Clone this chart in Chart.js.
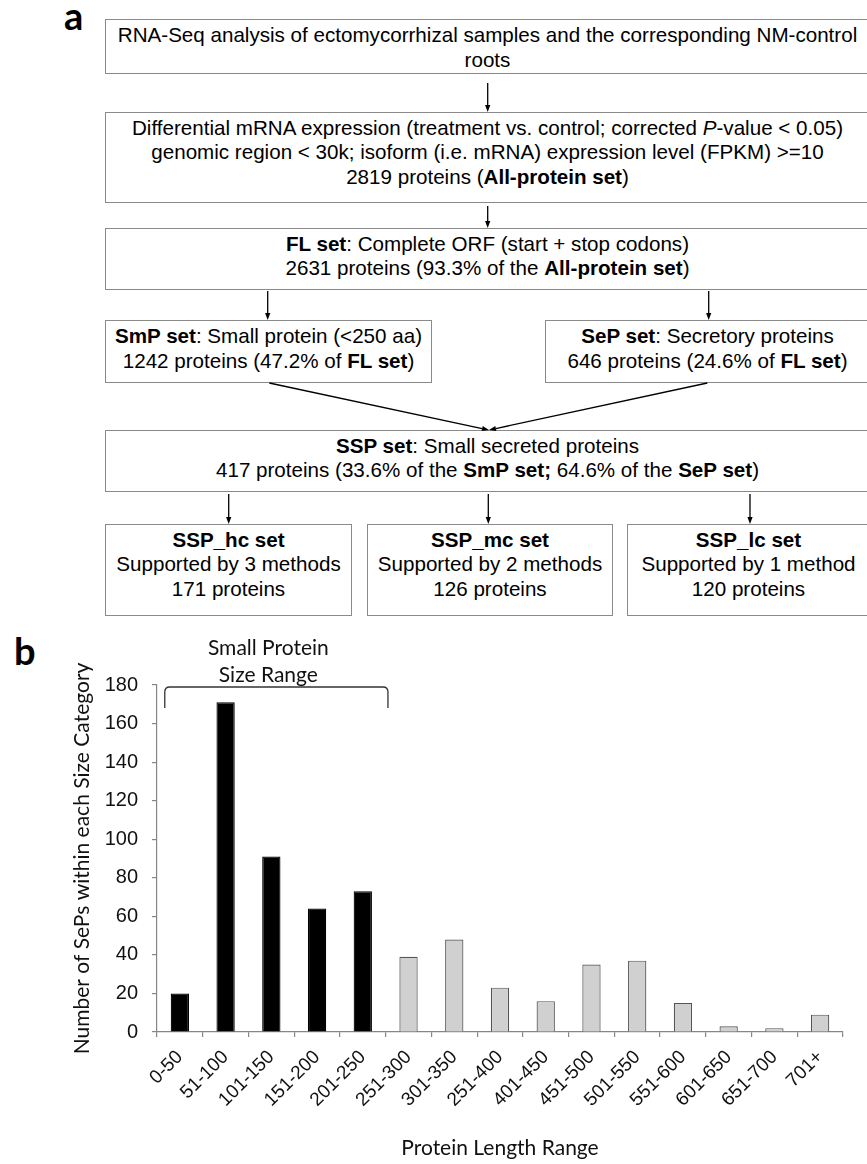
<!DOCTYPE html>
<html>
<head>
<meta charset="utf-8">
<script src="https://cdn.jsdelivr.net/npm/chart.js@4.4.1/dist/chart.umd.min.js"></script>
<style>
  html, body { margin: 0; padding: 0; background: #fff; }
  body { width: 867px; height: 1164px; position: relative; overflow: hidden;
         font-family: "Liberation Sans", Arial, sans-serif; color: #000; }
  .panel { position: absolute; font-family: Lato, sans-serif; font-weight: bold;
           font-size: 38px; line-height: 1; }
  .box { position: absolute; box-sizing: border-box; border: 1.5px solid #8a8a8a;
         text-align: center; font-size: 20.6px; line-height: 24.6px; padding-top: 2.6px;
         white-space: nowrap; background: #fff; }
  #arrows { position: absolute; left: 0; top: 0; }
  #chartWrap { position: absolute; left: 0; top: 630px; width: 867px; height: 534px; }
</style>
</head>
<body>
<div class="panel" style="left:64px; top:-4px;">a</div>
<div class="panel" style="left:14px; top:631px;">b</div>

<div class="box" style="left:105px; top:19px; width:765px; height:55px; padding-top:3.4px;">
  RNA-Seq analysis of ectomycorrhizal samples and the corresponding NM-control<br>roots
</div>
<div class="box" style="left:105px; top:112px; width:765px; height:91px;">
  Differential mRNA expression (treatment vs. control; corrected <i>P</i>-value &lt; 0.05)<br>
  genomic region &lt; 30k; isoform (i.e. mRNA) expression level (FPKM) &gt;=10<br>
  2819 proteins (<b>All-protein set</b>)
</div>
<div class="box" style="left:105px; top:228px; width:765px; height:62px;">
  <b>FL set</b>: Complete ORF (start + stop codons)<br>
  2631 proteins (93.3% of the <b>All-protein set</b>)
</div>
<div class="box" style="left:105px; top:320px; width:327px; height:63px; padding-top:3.1px;">
  <b>SmP set</b>: Small protein (&lt;250 aa)<br>
  1242 proteins (47.2% of <b>FL set</b>)
</div>
<div class="box" style="left:545px; top:320px; width:325px; height:63px; padding-top:3.1px;">
  <b>SeP set</b>: Secretory proteins<br>
  646 proteins (24.6% of <b>FL set</b>)
</div>
<div class="box" style="left:105px; top:430px; width:765px; height:62px;">
  <b>SSP set</b>: Small secreted proteins<br>
  417 proteins (33.6% of the <b>SmP set;</b> 64.6% of the <b>SeP set</b>)
</div>
<div class="box" style="left:105px; top:524px; width:247px; height:92px;">
  <b>SSP_hc set</b><br>Supported by 3 methods<br>171 proteins
</div>
<div class="box" style="left:367px; top:524px; width:246px; height:92px;">
  <b>SSP_mc set</b><br>Supported by 2 methods<br>126 proteins
</div>
<div class="box" style="left:627px; top:524px; width:243px; height:92px;">
  <b>SSP_lc set</b><br>Supported by 1 method<br>120 proteins
</div>

<svg id="arrows" width="867" height="640"></svg>

<div id="chartWrap"><canvas id="chart"></canvas></div>

<script>
// panel b data
const categories = ['0-50', '51-100', '101-150', '151-200', '201-250', '251-300', '301-350',
  '251-400', '401-450', '451-500', '501-550', '551-600', '601-650', '651-700', '701+'];
const counts = [20, 171, 91, 64, 73, 39, 48, 23, 16, 35, 37, 15, 3, 2, 9];
const yMin = 0, yMax = 180, yStep = 20;
const smallRangeCount = 5;   // first five bins are the small protein range (<250 aa)
const bracketLabel = ['Small Protein', 'Size Range'];

// flowchart arrows (panel a)
const svg = document.getElementById('arrows');
function arrow(x1, y1, x2, y2) {
  const ns = 'http://www.w3.org/2000/svg';
  const ang = Math.atan2(y2 - y1, x2 - x1);
  const len = 7, half = 2.6;
  const bx = x2 - len * Math.cos(ang), by = y2 - len * Math.sin(ang);
  const line = document.createElementNS(ns, 'line');
  line.setAttribute('x1', x1); line.setAttribute('y1', y1);
  line.setAttribute('x2', bx); line.setAttribute('y2', by);
  line.setAttribute('stroke', '#000'); line.setAttribute('stroke-width', '1.3');
  svg.appendChild(line);
  const head = document.createElementNS(ns, 'polygon');
  const px = -Math.sin(ang) * half, py = Math.cos(ang) * half;
  head.setAttribute('points', `${x2},${y2} ${bx + px},${by + py} ${bx - px},${by - py}`);
  head.setAttribute('fill', '#000');
  svg.appendChild(head);
}
arrow(487.7, 83, 487.7, 112);
arrow(487.7, 206, 487.7, 228);
arrow(267.7, 291, 267.7, 320);
arrow(708.7, 291, 708.7, 320);
arrow(269.3, 383, 489, 430);
arrow(707.3, 383, 489, 430);
arrow(228.7, 494, 228.7, 524);
arrow(488.3, 494, 488.3, 524);
arrow(750, 494, 750, 524);

const axisGray = '#868686';

const bracketPlugin = {
  id: 'sizeBracket',
  afterDatasetsDraw(chart) {
    const { ctx, scales: { x, y } } = chart;
    const step = x.getPixelForValue(1) - x.getPixelForValue(0);
    const x0 = x.getPixelForValue(0) - step * 0.33;
    const x1 = x.getPixelForValue(smallRangeCount - 1) + step * 0.55;
    const yTop = y.getPixelForValue(yMax) + 2;
    const yEnd = yTop + 21;
    const r = 5;
    ctx.save();
    ctx.strokeStyle = '#333';
    ctx.lineWidth = 1.3;
    ctx.beginPath();
    ctx.moveTo(x0, yEnd);
    ctx.lineTo(x0, yTop + r);
    ctx.quadraticCurveTo(x0, yTop, x0 + r, yTop);
    ctx.lineTo(x1 - r, yTop);
    ctx.quadraticCurveTo(x1, yTop, x1, yTop + r);
    ctx.lineTo(x1, yEnd);
    ctx.stroke();
    ctx.fillStyle = '#111';
    ctx.font = '21px Lato';
    ctx.textAlign = 'center';
    ctx.textBaseline = 'alphabetic';
    const cx = (x0 + x1) / 2 - 8;
    ctx.fillText(bracketLabel[0], cx, yTop - 32);
    ctx.fillText(bracketLabel[1], cx, yTop - 5);
    ctx.restore();
  }
};

new Chart(document.getElementById('chart'), {
  type: 'bar',
  data: {
    labels: categories,
    datasets: [{
      data: counts,
      backgroundColor: categories.map((c, i) => i < smallRangeCount ? '#000' : '#d0d0d0'),
      borderColor: categories.map((c, i) => i < smallRangeCount ? '#000' : '#555'),
      borderWidth: 1.2,
      barPercentage: 0.4,
      categoryPercentage: 1.0,
    }],
  },
  options: {
    responsive: true,
    maintainAspectRatio: false,
    animation: false,
    layout: { padding: { top: 55, right: 24, left: 0, bottom: 0 } },
    plugins: { legend: { display: false }, tooltip: { enabled: false } },
    scales: {
      x: {
        grid: { offset: true, drawOnChartArea: false, drawTicks: true, tickLength: 5, color: axisGray, lineWidth: 1.2 },
        border: { display: true, color: axisGray, width: 1.2 },
        ticks: { minRotation: 45, maxRotation: 45, autoSkip: false, padding: 9, color: '#111',
                 font: { family: 'Liberation Sans', size: 19 } },
        title: { display: true, text: 'Protein Length Range', color: '#111',
                 font: { family: 'Lato', size: 21 }, padding: { top: 0, bottom: 3 } },
        afterFit: (s) => { s.height = 132; },
      },
      y: {
        min: yMin,
        max: yMax,
        grid: { drawOnChartArea: false, drawTicks: true, tickLength: 5, color: axisGray, lineWidth: 1.2 },
        border: { display: true, color: axisGray, width: 1.2 },
        ticks: { stepSize: yStep, padding: 14, color: '#111',
                 font: { family: 'Liberation Sans', size: 20 } },
        title: { display: true, text: 'Number of SePs within each Size Category', color: '#111',
                 font: { family: 'Lato', size: 21 }, padding: { top: 69.4, bottom: 0 } },
        afterFit: (s) => { s.width = 157; },
      },
    },
  },
  plugins: [bracketPlugin],
});
</script>
</body>
</html>
